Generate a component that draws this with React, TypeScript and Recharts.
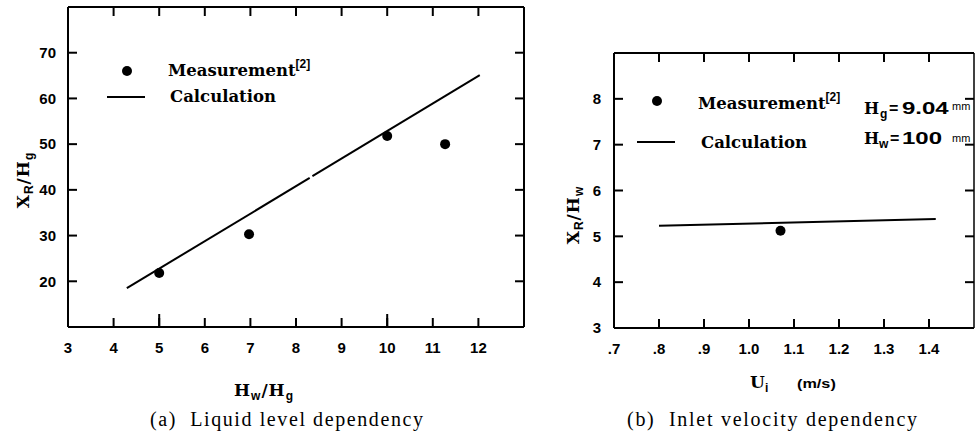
import React from 'react';
import { ComposedChart, Line, Scatter, XAxis, YAxis, ReferenceLine } from 'recharts';

// ---------- (a) Liquid level dependency ----------
const levelXDomain = [3, 13];
const levelYDomain = [10, 80];
const levelXTicks = [3, 4, 5, 6, 7, 8, 9, 10, 11, 12];
const levelXTickLabels = ['3', '4', '5', '6', '7', '8', '9', '10', '11', '12'];
const levelTopTicks = [4, 5, 6, 7, 8, 9, 10, 11, 12];
const levelMajorX = [5, 10];
const levelYTicks = [20, 30, 40, 50, 60, 70];
const levelYTickLabels = ['20', '30', '40', '50', '60', '70'];
const levelMeasX = [5.0, 6.97, 10.0, 11.27];
const levelMeasY = [21.8, 30.3, 51.8, 50.0];
const levelCalcAX = [4.29, 8.3];
const levelCalcAY = [18.5, 42.6];
const levelCalcBX = [8.36, 12.03];
const levelCalcBY = [43.0, 65.1];

// ---------- (b) Inlet velocity dependency ----------
const velXDomain = [0.7, 1.5];
const velYDomain = [3, 9];
const velXTicks = [0.7, 0.8, 0.9, 1.0, 1.1, 1.2, 1.3, 1.4];
const velXTickLabels = ['.7', '.8', '.9', '1.0', '1.1', '1.2', '1.3', '1.4'];
const velTopTicks = [0.8, 0.9, 1.0, 1.1, 1.2, 1.3, 1.4];
const velYTicks = [3, 4, 5, 6, 7, 8];
const velYTickLabels = ['3', '4', '5', '6', '7', '8'];
const velRightTicks = [4, 5, 6, 7, 8];
const velMeasX = [1.07];
const velMeasY = [5.12];
const velCalcX = [0.8, 1.415];
const velCalcY = [5.23, 5.38];

const zip = (xs: number[], ys: number[]) => xs.map((x, i) => ({ x, y: ys[i] }));
const atY = (xs: number[], y: number) => xs.map((x) => ({ x, y }));
const atX = (ys: number[], x: number) => ys.map((y) => ({ x, y }));
const labelFor = (ticks: number[], labels: string[]) => (v: number) => {
  const i = ticks.findIndex((t) => Math.abs(t - v) < 1e-9);
  return i >= 0 ? labels[i] : '';
};

const SANS = '"Liberation Sans", Arial, sans-serif';
const SANS_B: React.CSSProperties = { fontFamily: SANS, fontWeight: 700, fill: '#000' };
const SERIF_B: React.CSSProperties = { fontFamily: '"DejaVu Serif", serif', fontWeight: 700, fill: '#000' };
const CAPTION: React.CSSProperties = {
  fontFamily: '"Liberation Serif", "Times New Roman", serif',
  fontSize: 20,
  fill: '#000',
  whiteSpace: 'pre',
};

const STROKE = '#000';
const tickFont = { fill: '#000', fontSize: 15, fontWeight: 700, fontFamily: SANS };
const tickLine = { stroke: STROKE, strokeWidth: 2 };
const axisLine = { stroke: STROKE, strokeWidth: 2 };

const dotShape = (props: any) => <circle cx={props.cx} cy={props.cy} r={5} fill="#000" />;
const majorUpTick = (p: any) => <line x1={p.cx} y1={p.cy} x2={p.cx} y2={p.cy - 13} stroke={STROKE} strokeWidth={2} />;
const downTick = (p: any) => <line x1={p.cx} y1={p.cy} x2={p.cx} y2={p.cy + 9} stroke={STROKE} strokeWidth={2} />;
const leftwardTick = (p: any) => <line x1={p.cx} y1={p.cy} x2={p.cx - 9} y2={p.cy} stroke={STROKE} strokeWidth={2} />;

function LevelChart() {
  return (
    <ComposedChart width={540} height={437} margin={{ top: 7, right: 16, bottom: 0, left: 0 }}>
      <XAxis
        dataKey="x"
        type="number"
        domain={levelXDomain}
        ticks={levelXTicks}
        interval={0}
        allowDataOverflow
        height={110}
        tickSize={-9}
        tickMargin={24}
        tickLine={tickLine}
        axisLine={axisLine}
        tick={tickFont}
        tickFormatter={labelFor(levelXTicks, levelXTickLabels)}
      />
      <YAxis
        type="number"
        domain={levelYDomain}
        ticks={levelYTicks}
        interval={0}
        allowDataOverflow
        width={68}
        tickSize={-9}
        tickMargin={21}
        tickLine={tickLine}
        axisLine={axisLine}
        tick={tickFont}
        tickFormatter={labelFor(levelYTicks, levelYTickLabels)}
      />
      <ReferenceLine y={levelYDomain[1]} stroke={STROKE} strokeWidth={2} ifOverflow="visible" />
      <ReferenceLine x={levelXDomain[1]} stroke={STROKE} strokeWidth={2} ifOverflow="visible" />
      <Scatter data={atY(levelMajorX, levelYDomain[0])} dataKey="y" shape={majorUpTick} isAnimationActive={false} />
      <Scatter data={atY(levelTopTicks, levelYDomain[1])} dataKey="y" shape={downTick} isAnimationActive={false} />
      <Scatter data={atX(levelYTicks, levelXDomain[1])} dataKey="y" shape={leftwardTick} isAnimationActive={false} />
      <Line
        data={zip(levelCalcAX, levelCalcAY)}
        dataKey="y"
        type="linear"
        stroke={STROKE}
        strokeWidth={2}
        dot={false}
        isAnimationActive={false}
      />
      <Line
        data={zip(levelCalcBX, levelCalcBY)}
        dataKey="y"
        type="linear"
        stroke={STROKE}
        strokeWidth={2}
        dot={false}
        isAnimationActive={false}
      />
      <Scatter data={zip(levelMeasX, levelMeasY)} dataKey="y" shape={dotShape} isAnimationActive={false} />
    </ComposedChart>
  );
}

function VelocityChart() {
  return (
    <ComposedChart width={435} height={437} margin={{ top: 53, right: 1, bottom: 0, left: 0 }}>
      <XAxis
        dataKey="x"
        type="number"
        domain={velXDomain}
        ticks={velXTicks}
        interval={0}
        allowDataOverflow
        height={109}
        tickSize={-9}
        tickMargin={24}
        tickLine={tickLine}
        axisLine={axisLine}
        tick={tickFont}
        tickFormatter={labelFor(velXTicks, velXTickLabels)}
      />
      <YAxis
        type="number"
        domain={velYDomain}
        ticks={velYTicks}
        interval={0}
        allowDataOverflow
        width={74}
        tickSize={-9}
        tickMargin={22}
        tickLine={tickLine}
        axisLine={axisLine}
        tick={tickFont}
        tickFormatter={labelFor(velYTicks, velYTickLabels)}
      />
      <ReferenceLine y={velYDomain[1]} stroke={STROKE} strokeWidth={2} ifOverflow="visible" />
      <ReferenceLine x={velXDomain[1]} stroke={STROKE} strokeWidth={1.5} ifOverflow="visible" />
      <Scatter data={atY(velTopTicks, velYDomain[1])} dataKey="y" shape={downTick} isAnimationActive={false} />
      <Scatter data={atX(velRightTicks, velXDomain[1])} dataKey="y" shape={leftwardTick} isAnimationActive={false} />
      <Line
        data={zip(velCalcX, velCalcY)}
        dataKey="y"
        type="linear"
        stroke={STROKE}
        strokeWidth={2}
        dot={false}
        isAnimationActive={false}
      />
      <Scatter data={zip(velMeasX, velMeasY)} dataKey="y" shape={dotShape} isAnimationActive={false} />
    </ComposedChart>
  );
}

function Overlay() {
  const sub = { ...SANS_B, fontSize: 12 };
  const big = { ...SERIF_B, fontSize: 17 };
  const hFont = { ...SERIF_B, fontSize: 16 };
  const legendFont = { ...SERIF_B, fontSize: 16.5 };
  const mmFont = { fontFamily: SANS, fontSize: 11, fill: '#000' };
  const valFont = { ...SANS_B, fontSize: 16 };
  return (
    <svg width={975} height={437} style={{ position: 'absolute', left: 0, top: 0, pointerEvents: 'none' }}>
      {/* ---- (a) legend ---- */}
      <circle cx={127} cy={71} r={5} fill="#000" />
      <text x={168} y={76} style={legendFont}>
        Measurement
        <tspan dy={-8} style={{ ...SANS_B, fontSize: 12 }}>[2]</tspan>
      </text>
      <line x1={107} y1={97} x2={145} y2={97} stroke="#000" strokeWidth={2} />
      <text x={170} y={102} style={legendFont}>Calculation</text>

      {/* ---- (a) axis labels ---- */}
      <text x={264} y={396} textAnchor="middle" letterSpacing={1}>
        <tspan style={big}>H</tspan>
        <tspan dy={4} style={sub}>w</tspan>
        <tspan dy={-4} style={big}>/</tspan>
        <tspan style={big}>H</tspan>
        <tspan dy={4} style={sub}>g</tspan>
      </text>
      <text transform="translate(29,180) rotate(-90)" textAnchor="middle" letterSpacing={1}>
        <tspan style={big}>X</tspan>
        <tspan dy={4} style={sub}>R</tspan>
        <tspan dy={-4} style={big}>/</tspan>
        <tspan style={big}>H</tspan>
        <tspan dy={4} style={sub}>g</tspan>
      </text>
      <text x={150} y={426} style={CAPTION} textLength={273} lengthAdjust="spacing">
        (a)  Liquid level dependency
      </text>

      {/* ---- (b) legend ---- */}
      <circle cx={657} cy={101} r={5} fill="#000" />
      <text x={698} y={109} style={legendFont}>
        Measurement
        <tspan dy={-8} style={{ ...SANS_B, fontSize: 12 }}>[2]</tspan>
      </text>
      <line x1={637} y1={142} x2={675} y2={142} stroke="#000" strokeWidth={2} />
      <text x={701} y={148} style={legendFont}>Calculation</text>

      <text x={864} y={114} style={hFont}>H</text>
      <text x={880} y={118} style={sub}>g</text>
      <text x={889} y={114} style={valFont}>=</text>
      <text transform="translate(902,114) scale(1.5,1)" style={valFont}>9.04</text>
      <text x={952} y={110} style={mmFont}>mm</text>

      <text x={864} y={144} style={hFont}>H</text>
      <text x={879} y={148} style={sub}>w</text>
      <text x={890} y={144} style={valFont}>=</text>
      <text transform="translate(902,144) scale(1.5,1)" style={valFont}>100</text>
      <text x={952} y={142} style={mmFont}>mm</text>

      {/* ---- (b) axis labels ---- */}
      <text x={750} y={388} style={big}>U</text>
      <text x={765} y={392} style={sub}>i</text>
      <text transform="translate(797,388) scale(1.3,1)" style={{ ...SANS_B, fontSize: 12.5 }}>(m/s)</text>
      <text transform="translate(579,215) rotate(-90)" textAnchor="middle" letterSpacing={1}>
        <tspan style={big}>X</tspan>
        <tspan dy={4} style={sub}>R</tspan>
        <tspan dy={-4} style={big}>/</tspan>
        <tspan style={big}>H</tspan>
        <tspan dy={4} style={sub}>w</tspan>
      </text>
      <text x={627} y={426} style={CAPTION} textLength={290} lengthAdjust="spacing">
        (b)  Inlet velocity dependency
      </text>
    </svg>
  );
}

export default function App() {
  return (
    <div style={{ position: 'absolute', left: 0, top: 0, width: 975, height: 437, background: '#fff', overflow: 'hidden' }}>
      <Overlay />
      <div style={{ position: 'absolute', left: 0, top: 0 }}>
        <LevelChart />
      </div>
      <div style={{ position: 'absolute', left: 540, top: 0 }}>
        <VelocityChart />
      </div>
    </div>
  );
}
